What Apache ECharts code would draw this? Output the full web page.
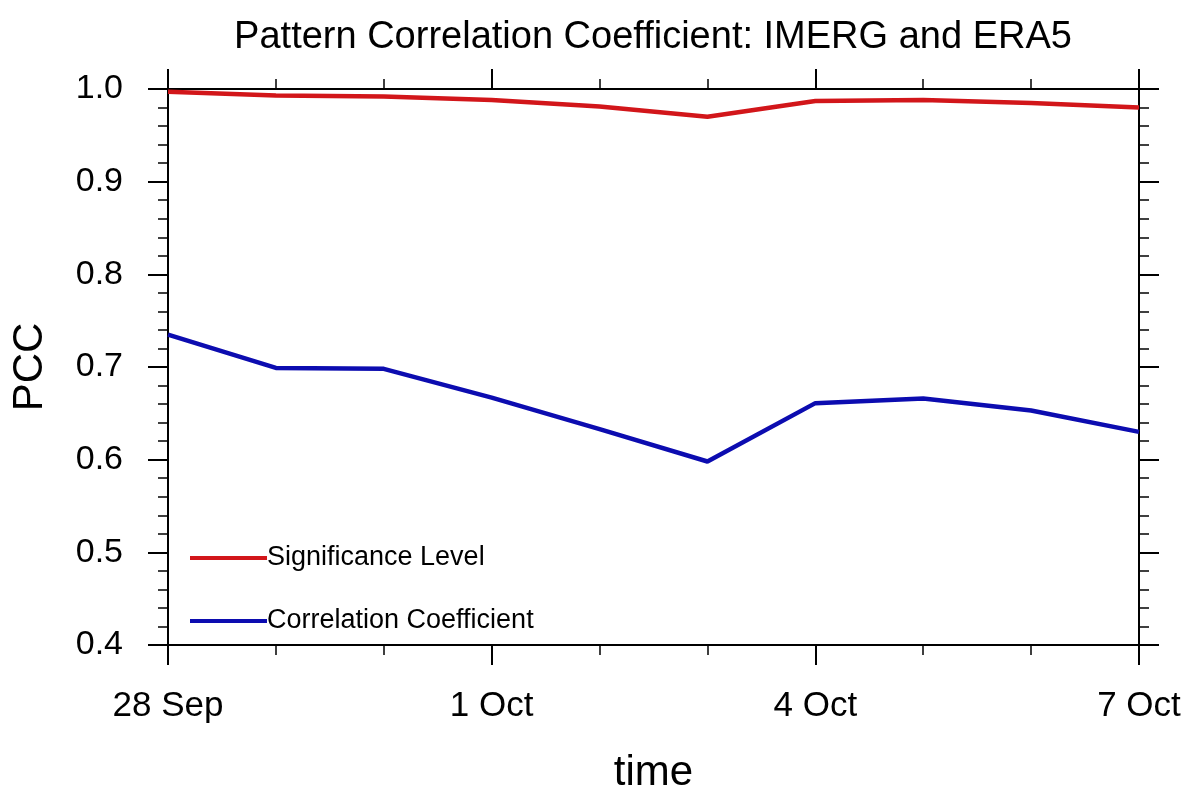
<!DOCTYPE html>
<html>
<head>
<meta charset="utf-8">
<title>Pattern Correlation Coefficient: IMERG and ERA5</title>
<script src="https://cdn.jsdelivr.net/npm/echarts@6/dist/echarts.min.js"></script>
<style>
  html, body { margin: 0; padding: 0; background: #ffffff; }
  #chart { width: 1186px; height: 790px; }
</style>
</head>
<body>
<div id="chart"></div>
<script>
// Daily dates, 28 Sep to 7 Oct
const dates = ['28 Sep', '29 Sep', '30 Sep', '1 Oct', '2 Oct', '3 Oct', '4 Oct', '5 Oct', '6 Oct', '7 Oct'];

// Significance level per day
const significance = [0.997, 0.993, 0.992, 0.988, 0.981, 0.970, 0.987, 0.988, 0.985, 0.980];

// Pattern correlation coefficient per day
const correlation = [0.735, 0.699, 0.698, 0.667, 0.633, 0.598, 0.661, 0.666, 0.653, 0.630];

// Y-axis tick values
const yTicks = [0.4, 0.5, 0.6, 0.7, 0.8, 0.9, 1.0];

const FONT = '"Liberation Sans", Arial, Helvetica, sans-serif';
const INK = '#000000';

const toPairs = vals => vals.map((v, i) => [i, v]);

const xBase = {
  type: 'value',
  min: 0,
  max: dates.length - 1,
  interval: 3,
  axisLine: { show: true, onZero: false, lineStyle: { color: INK, width: 2 } },
  axisTick: { show: true, length: 20, lineStyle: { color: INK, width: 2 } },
  minorTick: { show: true, splitNumber: 3, length: 10, lineStyle: { color: INK, width: 1.5 } },
  splitLine: { show: false },
  minorSplitLine: { show: false }
};

const yBase = {
  type: 'value',
  min: yTicks[0],
  max: yTicks[yTicks.length - 1],
  interval: 0.1,
  axisLine: { show: true, onZero: false, lineStyle: { color: INK, width: 2 } },
  axisTick: { show: true, length: 20, lineStyle: { color: INK, width: 2 } },
  minorTick: { show: true, splitNumber: 5, length: 10, lineStyle: { color: INK, width: 1.5 } },
  splitLine: { show: false },
  minorSplitLine: { show: false }
};

const chart = echarts.init(document.getElementById('chart'), null, { renderer: 'canvas' });

chart.setOption({
  backgroundColor: '#ffffff',
  animation: false,
  title: {
    text: 'Pattern Correlation Coefficient: IMERG and ERA5',
    left: 653,
    textAlign: 'center',
    top: 19,
    padding: 0,
    textStyle: { fontFamily: FONT, fontSize: 38, fontWeight: 'normal', color: INK }
  },
  grid: {
    left: 168, right: 47, top: 89, bottom: 145,
    containLabel: false,
    outerBoundsMode: 'none'
  },
  legend: {
    orient: 'vertical',
    left: 185,
    top: 538,
    itemWidth: 77,
    itemHeight: 4,
    itemGap: 33,
    icon: 'rect',
    textStyle: { fontFamily: FONT, fontSize: 27, color: INK, lineHeight: 30, padding: [0, 0, 0, -5] },
    data: ['Significance Level', 'Correlation Coefficient']
  },
  xAxis: [
    Object.assign({}, xBase, {
      position: 'bottom',
      name: 'time',
      nameLocation: 'middle',
      nameGap: 107,
      nameTextStyle: { fontFamily: FONT, fontSize: 42, color: INK },
      axisLabel: {
        show: true,
        margin: 44,
        fontFamily: FONT,
        fontSize: 35,
        color: INK,
        formatter: v => dates[Math.round(v)] || ''
      }
    }),
    Object.assign({}, xBase, {
      position: 'top',
      axisLabel: { show: false }
    })
  ],
  yAxis: [
    Object.assign({}, yBase, {
      position: 'left',
      name: 'PCC',
      nameLocation: 'middle',
      nameGap: 117,
      nameRotate: 90,
      nameTextStyle: { fontFamily: FONT, fontSize: 42, color: INK },
      axisLabel: {
        show: true,
        margin: 45,
        fontFamily: FONT,
        fontSize: 34,
        color: INK,
        formatter: v => v.toFixed(1)
      }
    }),
    Object.assign({}, yBase, {
      position: 'right',
      axisLabel: { show: false }
    })
  ],
  series: [
    {
      name: 'Significance Level',
      type: 'line',
      xAxisIndex: 0,
      yAxisIndex: 0,
      data: toPairs(significance),
      showSymbol: false,
      symbol: 'none',
      lineStyle: { color: '#d2161a', width: 4.5 },
      itemStyle: { color: '#d2161a' },
      z: 3
    },
    {
      name: 'Correlation Coefficient',
      type: 'line',
      xAxisIndex: 0,
      yAxisIndex: 0,
      data: toPairs(correlation),
      showSymbol: false,
      symbol: 'none',
      lineStyle: { color: '#0c0cb0', width: 4.5 },
      itemStyle: { color: '#0c0cb0' },
      z: 3
    }
  ]
});
</script>
</body>
</html>
